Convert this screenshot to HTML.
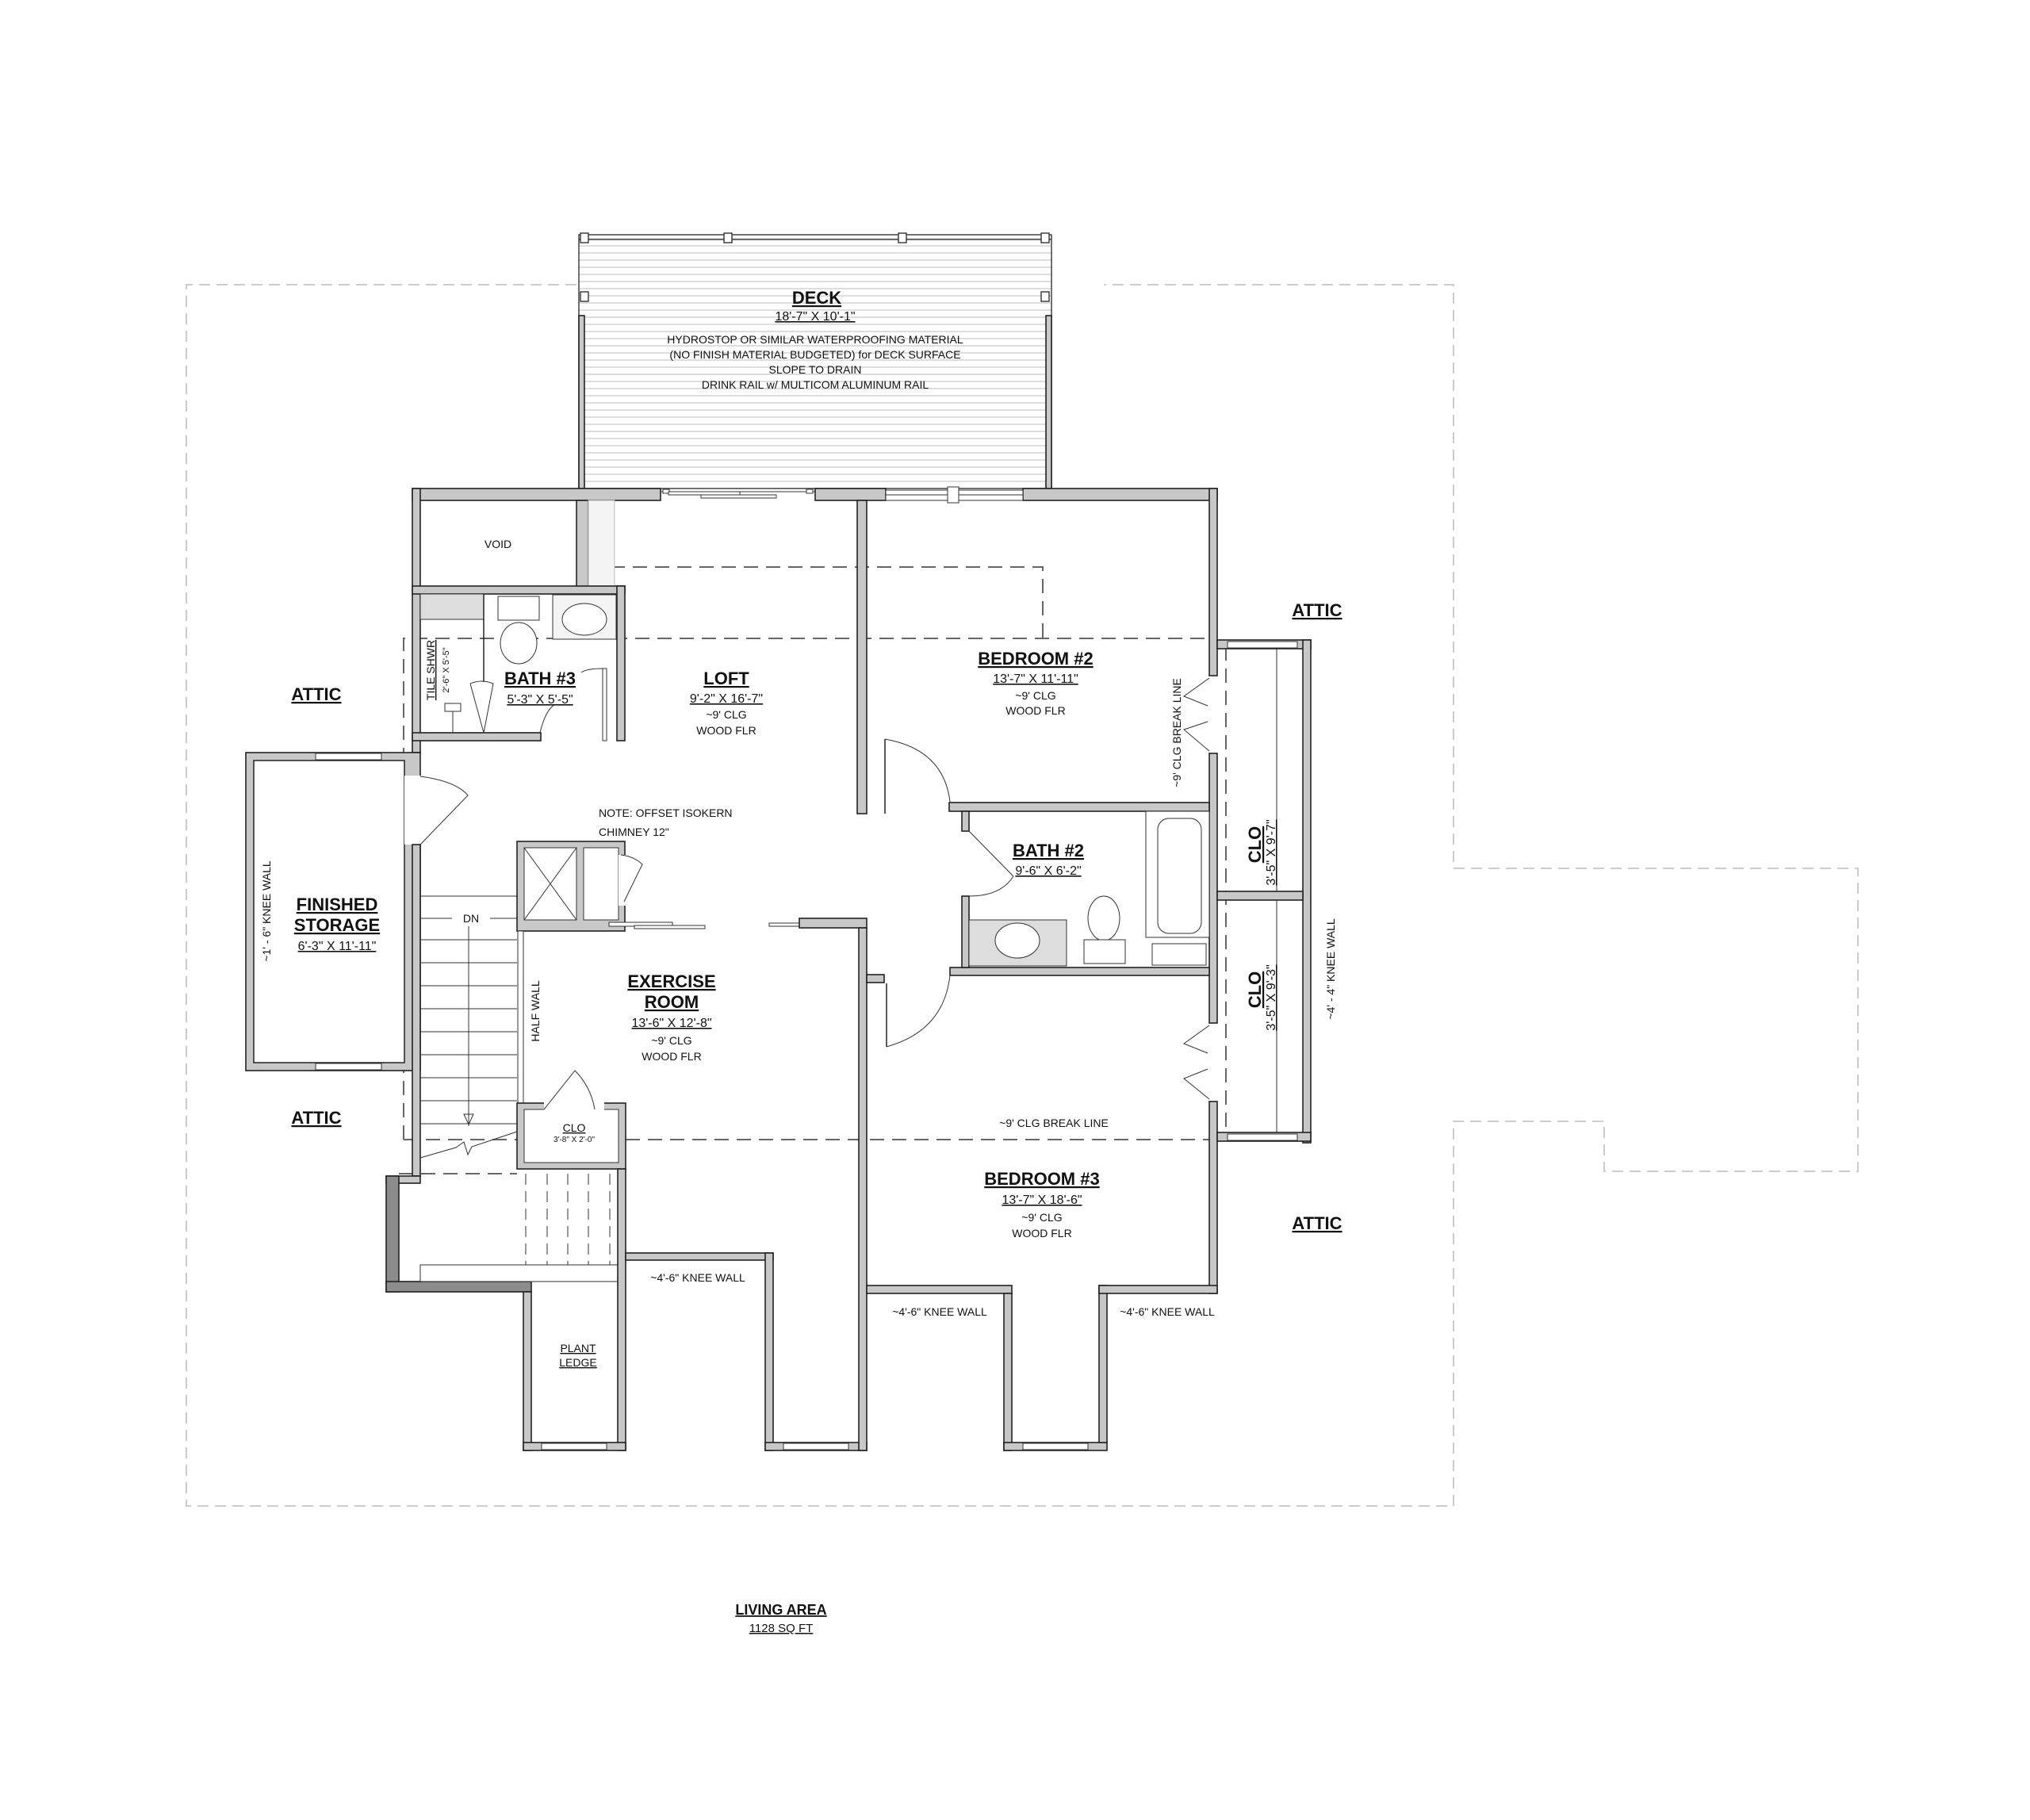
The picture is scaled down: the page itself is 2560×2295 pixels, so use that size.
<!DOCTYPE html>
<html><head><meta charset="utf-8"><style>
html,body{margin:0;padding:0;background:#fff}
svg{display:block}
text{font-family:"Liberation Sans",sans-serif;fill:#111}
.t{font-size:22px;font-weight:bold;text-anchor:middle;text-decoration:underline}
.d{font-size:16px;text-anchor:middle;text-decoration:underline}
.n{font-size:14px;text-anchor:middle}
.w{fill:#c8c8c8;stroke:#222;stroke-width:1.6}
.wd{fill:#8c8c8c;stroke:#222;stroke-width:1.6}
.ln{stroke:#222;stroke-width:1.5;fill:none}
.th{stroke:#333;stroke-width:1;fill:none}
.ds{stroke:#666;stroke-width:2;fill:none;stroke-dasharray:18 10}
.lg{stroke:#ccc;stroke-width:2;fill:none;stroke-dasharray:14 8}
</style></head><body>
<svg width="2560" height="2295" viewBox="0 0 2560 2295" xmlns="http://www.w3.org/2000/svg">
<defs>
<pattern id="deckp" width="8" height="9" patternUnits="userSpaceOnUse">
<rect width="8" height="9" fill="#fff"/><line x1="0" y1="4" x2="8" y2="4" stroke="#d4d4d4" stroke-width="1.5"/>
</pattern>
</defs>

<!-- outer dashed roof outline -->
<path class="lg" d="M727 359 H235 V1899 H1833 V1414 H2023 V1477 H2343 V1095 H1833 V359 H1392"/>

<!-- DECK -->
<rect x="730" y="296" width="596" height="320" fill="url(#deckp)" stroke="#444" stroke-width="1.5"/>
<line x1="730" y1="302" x2="1326" y2="302" stroke="#444" stroke-width="1.5"/>
<rect x="730" y="398" width="7" height="218" class="w"/>
<rect x="1319" y="398" width="7" height="218" class="w"/>
<g fill="#fff" stroke="#333" stroke-width="1.4">
<rect x="732" y="294" width="10" height="12"/><rect x="913" y="294" width="10" height="12"/>
<rect x="1133" y="294" width="10" height="12"/><rect x="1313" y="294" width="10" height="12"/>
<rect x="732" y="368" width="10" height="12"/><rect x="1313" y="368" width="10" height="12"/>
</g>
<text class="t" x="1030" y="383">DECK</text>
<text class="d" x="1028" y="404">18'-7" X 10'-1"</text>
<text class="n" x="1028" y="433">HYDROSTOP OR SIMILAR WATERPROOFING MATERIAL</text>
<text class="n" x="1028" y="452">(NO FINISH MATERIAL BUDGETED) for DECK SURFACE</text>
<text class="n" x="1028" y="471">SLOPE TO DRAIN</text>
<text class="n" x="1028" y="490">DRINK RAIL w/ MULTICOM ALUMINUM RAIL</text>

<!-- dashed ceiling lines -->
<path class="ds" d="M742 715 H1315 V805"/>
<path class="ds" d="M509 1437 V805 H1535"/>
<path class="ds" d="M509 1437 H1537"/>
<path class="ds" d="M1546 815 V1430"/>
<path class="ds" d="M503 1480 H652"/>

<!-- TOP WALLS -->
<rect class="w" x="520" y="616" width="313" height="15"/>
<rect class="w" x="1028" y="616" width="89" height="15"/>
<rect class="w" x="1290" y="616" width="245" height="15"/>
<!-- slider at deck -->
<line class="th" x1="833" y1="620" x2="1028" y2="620"/>
<rect x="836" y="617" width="8" height="5" fill="#fff" stroke="#333"/><rect x="1017" y="617" width="8" height="5" fill="#fff" stroke="#333"/>
<rect x="843" y="620" width="90" height="4" fill="#fff" stroke="#333"/><rect x="884" y="624" width="95" height="4" fill="#fff" stroke="#333"/>
<!-- window -->
<rect x="1117" y="618" width="173" height="13" fill="#fff" stroke="#333"/>
<line class="th" x1="1117" y1="624" x2="1290" y2="624"/>
<rect x="1195" y="614" width="14" height="20" fill="#fff" stroke="#333"/>

<!-- left upper walls -->
<rect class="w" x="520" y="616" width="10" height="333"/>
<rect class="w" x="727" y="631" width="15" height="110"/>
<rect x="742" y="631" width="33" height="108" fill="#f4f4f4" stroke="#bbb"/>
<text class="n" x="628" y="691">VOID</text>
<rect class="w" x="520" y="739" width="268" height="10"/>
<!-- bath 3 -->
<rect class="w" x="778" y="739" width="10" height="195"/>
<rect class="w" x="520" y="924" width="162" height="10"/>
<rect x="760" y="843" width="5" height="91" fill="#fff" stroke="#333"/>
<path class="th" d="M760 843 Q740 843 733 848"/>
<path class="th" d="M681 924 Q688 895 700 888"/>
<rect x="530" y="749" width="80" height="32" fill="#ddd" stroke="#333"/>
<line class="ln" x1="610" y1="749" x2="610" y2="860"/>
<rect x="628" y="752" width="52" height="30" fill="#fff" stroke="#333"/>
<ellipse cx="654" cy="811" rx="23" ry="26" fill="#fff" stroke="#333"/>
<rect x="697" y="750" width="80" height="56" fill="#f4f4f4" stroke="#333"/>
<ellipse cx="737" cy="781" rx="28" ry="20" fill="#fff" stroke="#333"/>
<path class="th" d="M593 862 L610 924 L622 862 Q607 856 593 862"/>
<rect x="561" y="887" width="20" height="10" fill="#fff" stroke="#333"/><line class="th" x1="571" y1="897" x2="571" y2="924"/>
<text class="n" transform="translate(548,845) rotate(-90)" text-decoration="underline">TILE SHWR</text>
<text transform="translate(566,845) rotate(-90)" font-size="11" text-anchor="middle">2'-6" X 5'-5"</text>
<text class="t" x="681" y="863">BATH #3</text>
<text class="d" x="681" y="887">5'-3" X 5'-5"</text>

<!-- Loft -->
<text class="t" x="916" y="863">LOFT</text>
<text class="d" x="916" y="886">9'-2" X 16'-7"</text>
<text class="n" x="916" y="906">~9' CLG</text>
<text class="n" x="916" y="926">WOOD FLR</text>

<!-- Bedroom2 / loft wall -->
<rect class="w" x="1081" y="631" width="12" height="395"/>
<path class="ln" d="M1116 932 V1026"/>
<path class="th" d="M1116 932 Q1190 945 1198 1011"/>
<!-- right wall -->
<rect class="w" x="1525" y="616" width="10" height="236"/>
<rect class="w" x="1525" y="950" width="10" height="340"/>
<rect class="w" x="1525" y="1389" width="10" height="242"/>
<!-- bifolds -->
<path class="th" d="M1525 855 L1493 878 L1523 890 M1525 947 L1493 920 L1523 910"/>
<path class="th" d="M1525 1293 L1493 1316 L1523 1328 M1525 1386 L1493 1360 L1523 1348"/>
<!-- closets -->
<rect class="w" x="1535" y="807" width="118" height="11"/>
<rect x="1548" y="809" width="88" height="8" fill="#fff" stroke="#333"/>
<rect class="w" x="1643" y="807" width="10" height="634"/>
<rect class="w" x="1535" y="1124" width="108" height="11"/>
<rect class="w" x="1535" y="1428" width="118" height="11"/>
<rect x="1548" y="1430" width="88" height="8" fill="#fff" stroke="#333"/>
<line class="th" x1="1610" y1="818" x2="1610" y2="1124"/>
<line class="th" x1="1610" y1="1135" x2="1610" y2="1428"/>
<text class="t" transform="translate(1590,1065) rotate(-90)">CLO</text>
<text class="d" transform="translate(1608,1075) rotate(-90)">3'-5" X 9'-7"</text>
<text class="t" transform="translate(1590,1248) rotate(-90)">CLO</text>
<text class="d" transform="translate(1608,1258) rotate(-90)">3'-5" X 9'-3"</text>
<text class="n" transform="translate(1683,1222) rotate(-90)">~4' - 4" KNEE WALL</text>

<text class="t" x="1306" y="838">BEDROOM #2</text>
<text class="d" x="1306" y="861">13'-7" X 11'-11"</text>
<text class="n" x="1306" y="882">~9' CLG</text>
<text class="n" x="1306" y="901">WOOD FLR</text>
<text class="n" transform="translate(1489,924) rotate(-90)">~9' CLG BREAK LINE</text>

<!-- Bath 2 -->
<rect class="w" x="1197" y="1012" width="328" height="11"/>
<rect class="w" x="1198" y="1220" width="327" height="10"/>
<rect class="w" x="1213" y="1023" width="9" height="25"/>
<rect class="w" x="1213" y="1130" width="9" height="90"/>
<path class="th" d="M1222 1048 L1278 1105 M1222 1130 Q1262 1130 1278 1105"/>
<rect x="1222" y="1160" width="123" height="58" fill="#ddd" stroke="#333"/>
<ellipse cx="1283" cy="1186" rx="28" ry="22" fill="#fff" stroke="#333"/>
<ellipse cx="1392" cy="1158" rx="20" ry="28" fill="#fff" stroke="#333"/>
<rect x="1367" y="1185" width="52" height="30" fill="#fff" stroke="#333"/>
<rect x="1445" y="1023" width="80" height="159" fill="#fff" stroke="#333"/>
<rect x="1460" y="1032" width="55" height="145" rx="14" fill="#fff" stroke="#333"/>
<rect x="1453" y="1190" width="68" height="27" fill="#fff" stroke="#333"/>
<text class="t" x="1322" y="1080">BATH #2</text>
<text class="d" x="1322" y="1103">9'-6" X 6'-2"</text>

<!-- Finished storage -->
<rect class="w" x="310" y="949" width="220" height="401"/>
<rect x="320" y="959" width="190" height="381" fill="#fff" stroke="#222" stroke-width="1.5"/>
<rect x="398" y="950" width="83" height="8" fill="#fff" stroke="#333"/>
<rect x="398" y="1341" width="83" height="8" fill="#fff" stroke="#333"/>
<rect x="510" y="978" width="22" height="87" fill="#fff"/>
<path class="th" d="M530 979 Q575 985 590 1003 L530 1065"/>
<text class="t" x="425" y="1148">FINISHED</text>
<text class="t" x="425" y="1174">STORAGE</text>
<text class="d" x="425" y="1198">6'-3" X 11'-11"</text>
<text class="n" transform="translate(341,1149) rotate(-90)">~1' - 6" KNEE WALL</text>
<text class="t" x="399" y="883">ATTIC</text>
<text class="t" x="399" y="1417">ATTIC</text>
<text class="t" x="1661" y="777">ATTIC</text>
<text class="t" x="1661" y="1550">ATTIC</text>

<!-- stair left wall -->
<rect class="w" x="520" y="1065" width="10" height="418"/>
<rect class="w" x="487" y="1483" width="43" height="9"/>
<rect class="wd" x="487" y="1483" width="16" height="146"/>
<rect class="wd" x="487" y="1616" width="183" height="13"/>
<!-- stairs -->
<g class="th">
<line x1="530" y1="1130" x2="652" y2="1130"/>
<line x1="530" y1="1185" x2="652" y2="1185"/><line x1="530" y1="1214" x2="652" y2="1214"/>
<line x1="530" y1="1243" x2="652" y2="1243"/><line x1="530" y1="1272" x2="652" y2="1272"/>
<line x1="530" y1="1301" x2="652" y2="1301"/><line x1="530" y1="1330" x2="652" y2="1330"/>
<line x1="530" y1="1359" x2="652" y2="1359"/><line x1="530" y1="1388" x2="652" y2="1388"/>
<line x1="530" y1="1417" x2="652" y2="1417"/>
<line x1="591" y1="1168" x2="591" y2="1420"/>
<path d="M530 1460 L575 1447 L585 1440 L590 1456 L595 1446 L652 1427"/>
<path d="M585 1405 L591 1418 L597 1405 Z"/>
<line x1="530" y1="1158" x2="570" y2="1158"/><line x1="618" y1="1158" x2="652" y2="1158"/>
</g>
<text class="n" x="594" y="1163">DN</text>
<g class="th" stroke-dasharray="14 8">
<line x1="663" y1="1480" x2="663" y2="1595"/><line x1="690" y1="1480" x2="690" y2="1595"/>
<line x1="716" y1="1480" x2="716" y2="1595"/><line x1="742" y1="1480" x2="742" y2="1595"/>
<line x1="769" y1="1480" x2="769" y2="1595"/>
</g>
<rect x="530" y="1595" width="249" height="21" fill="#fff" stroke="#333"/>

<!-- chimney block -->
<rect class="w" x="652" y="1061" width="136" height="113"/>
<rect x="661" y="1069" width="66" height="91" fill="#fff" stroke="#333"/>
<path class="th" d="M661 1069 L727 1160 M727 1069 L661 1160"/>
<rect x="736" y="1069" width="44" height="91" fill="#fff" stroke="#333"/>
<rect x="780" y="1078" width="10" height="64" fill="#fff"/>
<path class="th" d="M783 1078 Q800 1080 810 1090 L787 1137"/>
<rect x="768" y="1163" width="80" height="5" fill="#fff" stroke="#333"/>
<rect x="800" y="1167" width="89" height="4" fill="#fff" stroke="#333"/>
<rect x="970" y="1164" width="80" height="4" fill="#fff" stroke="#333"/>
<text font-size="14" x="755" y="1030">NOTE: OFFSET ISOKERN</text>
<text font-size="14" x="755" y="1054">CHIMNEY 12"</text>
<!-- half wall -->
<rect x="653" y="1174" width="7" height="217" fill="#fff" stroke="#333"/>
<text class="n" transform="translate(680,1275) rotate(-90)">HALF WALL</text>

<!-- small CLO -->
<rect class="w" x="652" y="1391" width="137" height="83"/>
<rect x="661" y="1399" width="119" height="67" fill="#fff" stroke="#333"/>
<rect x="686" y="1390" width="76" height="10" fill="#fff"/>
<path class="th" d="M686 1399 L725 1350 Q745 1370 750 1399"/>
<text font-size="14" text-anchor="middle" x="724" y="1427" text-decoration="underline">CLO</text>
<text font-size="10" text-anchor="middle" x="724" y="1440">3'-8" X 2'-0"</text>

<text class="t" x="847" y="1245">EXERCISE</text>
<text class="t" x="847" y="1271">ROOM</text>
<text class="d" x="847" y="1295">13'-6" X 12'-8"</text>
<text class="n" x="847" y="1317">~9' CLG</text>
<text class="n" x="847" y="1337">WOOD FLR</text>

<!-- lower walls -->
<rect class="w" x="779" y="1474" width="10" height="355"/>
<rect class="w" x="789" y="1580" width="186" height="9"/>
<rect class="w" x="660" y="1629" width="10" height="200"/>
<rect class="w" x="660" y="1819" width="129" height="10"/>
<rect x="683" y="1820" width="82" height="8" fill="#fff" stroke="#333"/>
<rect class="w" x="965" y="1580" width="10" height="249"/>
<rect class="w" x="965" y="1819" width="128" height="10"/>
<rect x="988" y="1820" width="82" height="8" fill="#fff" stroke="#333"/>
<rect class="w" x="1008" y="1158" width="85" height="12"/>
<rect class="w" x="1083" y="1170" width="10" height="659"/>
<rect class="w" x="1093" y="1229" width="22" height="10"/>
<path class="ln" d="M1118 1240 V1320"/>
<path class="th" d="M1118 1320 Q1190 1300 1198 1230"/>
<text class="n" x="729" y="1705" text-decoration="underline">PLANT</text>
<text class="n" x="729" y="1723" text-decoration="underline">LEDGE</text>
<text class="n" x="880" y="1616">~4'-6" KNEE WALL</text>

<!-- bedroom 3 -->
<rect class="w" x="1093" y="1621" width="183" height="10"/>
<rect class="w" x="1266" y="1631" width="10" height="198"/>
<rect class="w" x="1266" y="1819" width="130" height="10"/>
<rect x="1290" y="1820" width="82" height="8" fill="#fff" stroke="#333"/>
<rect class="w" x="1386" y="1621" width="10" height="198"/>
<rect class="w" x="1386" y="1621" width="149" height="10"/>
<text class="n" x="1329" y="1421">~9' CLG BREAK LINE</text>
<text class="t" x="1314" y="1494">BEDROOM #3</text>
<text class="d" x="1314" y="1518">13'-7" X 18'-6"</text>
<text class="n" x="1314" y="1540">~9' CLG</text>
<text class="n" x="1314" y="1560">WOOD FLR</text>
<text class="n" x="1185" y="1659">~4'-6" KNEE WALL</text>
<text class="n" x="1472" y="1659">~4'-6" KNEE WALL</text>

<text font-size="18" font-weight="bold" text-anchor="middle" x="985" y="2036" text-decoration="underline">LIVING AREA</text>
<text font-size="15" text-anchor="middle" x="985" y="2058" text-decoration="underline">1128 SQ FT</text>
</svg>
</body></html>
